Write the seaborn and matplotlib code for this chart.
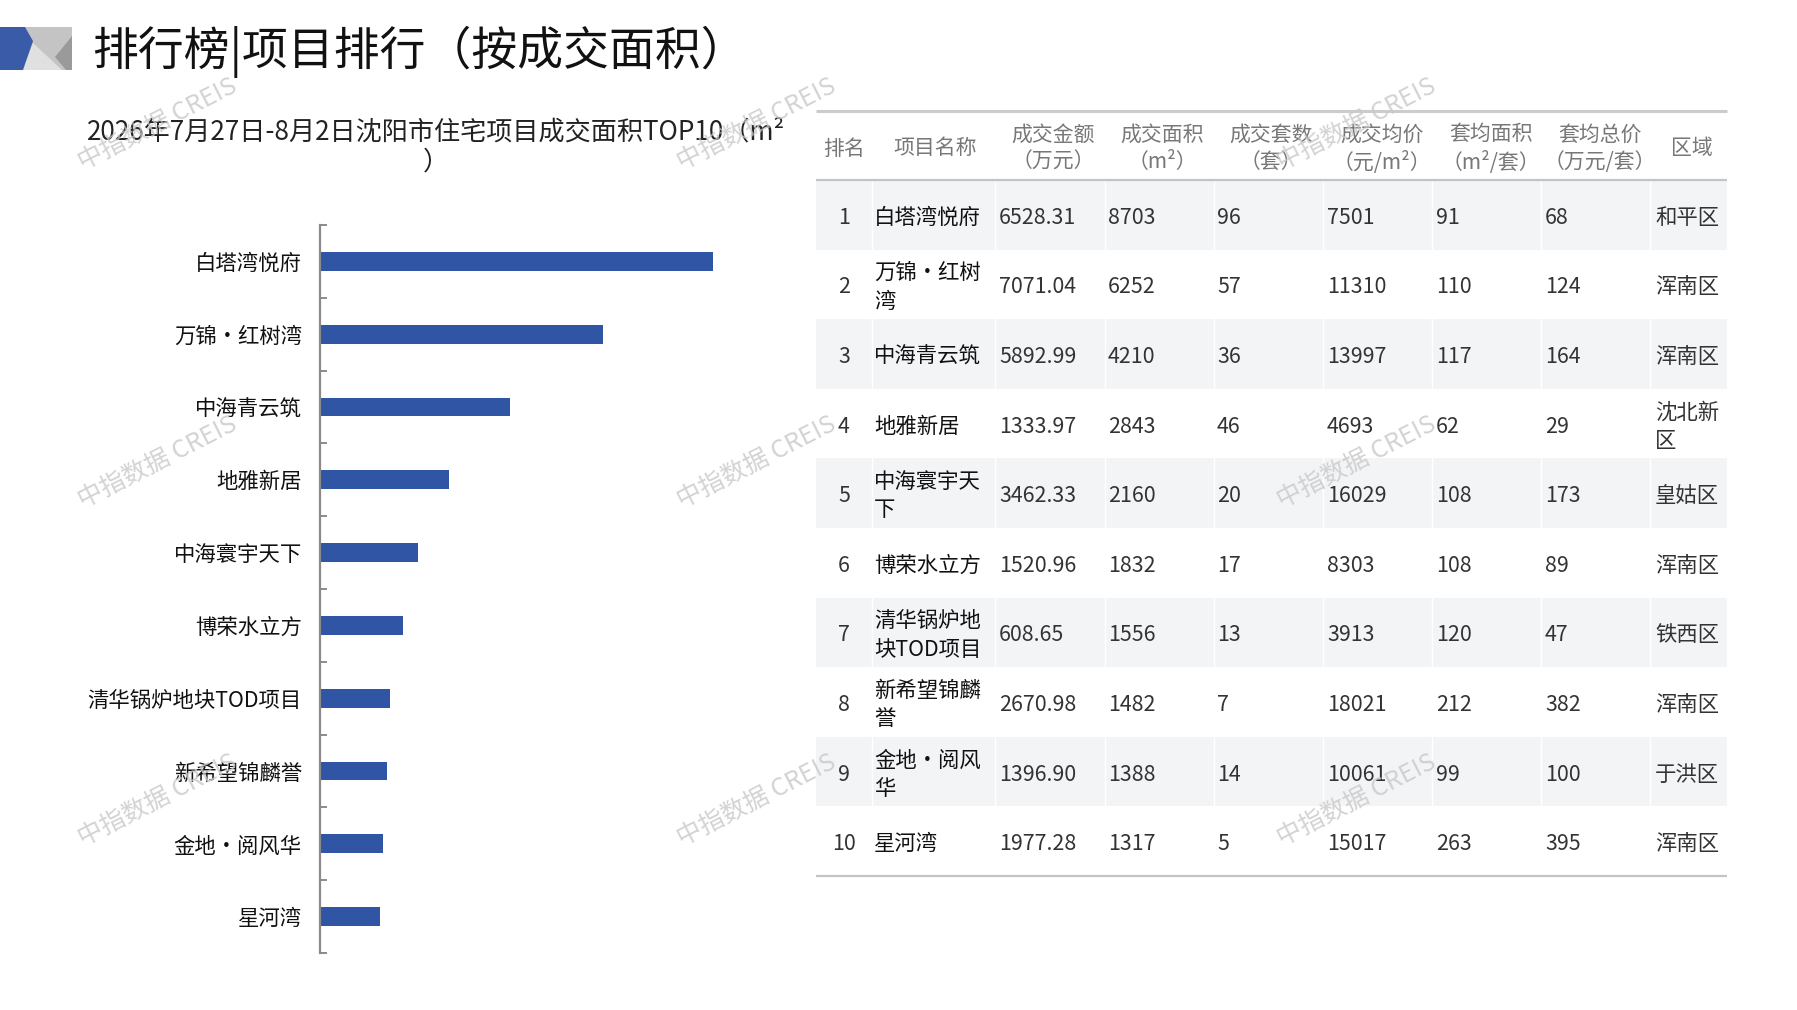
import numpy as np
import pandas as pd
import seaborn as sns
import matplotlib.pyplot as plt
from matplotlib.patches import Rectangle, Polygon

sns.set_style('white')
plt.rcParams['font.family'] = ['Noto Sans CJK SC', 'DejaVu Sans']

# ---- data ----
page_title = '排行榜|项目排行（按成交面积）'
chart_title = '2026年7月27日-8月2日沈阳市住宅项目成交面积TOP10（m²\n）'

names = ['白塔湾悦府', '万锦•红树湾', '中海青云筑', '地雅新居', '中海寰宇天下',
         '博荣水立方', '清华锅炉地块TOD项目', '新希望锦麟誉', '金地•阅风华', '星河湾']
rank = [1, 2, 3, 4, 5, 6, 7, 8, 9, 10]
amount = [6528.31, 7071.04, 5892.99, 1333.97, 3462.33, 1520.96, 608.65, 2670.98, 1396.90, 1977.28]
area = [8703, 6252, 4210, 2843, 2160, 1832, 1556, 1482, 1388, 1317]
units = [96, 57, 36, 46, 20, 17, 13, 7, 14, 5]
price = [7501, 11310, 13997, 4693, 16029, 8303, 3913, 18021, 10061, 15017]
avg_area = [91, 110, 117, 62, 108, 108, 120, 212, 99, 263]
avg_total = [68, 124, 164, 29, 173, 89, 47, 382, 100, 395]
district = ['和平区', '浑南区', '浑南区', '沈北新区', '皇姑区', '浑南区', '铁西区', '浑南区', '于洪区', '浑南区']

headers = ['排名', '项目名称', '成交金额\n（万元）', '成交面积\n（m²）', '成交套数\n（套）',
           '成交均价\n（元/m²）', '套均面积\n（m²/套）', '套均总价\n（万元/套）', '区域']

watermark = '中指数据 CREIS'

W, H = 1797, 1010
BAR = '#2F55A4'


def wrap(s, limit):
    # break a label by visual width: CJK = 1, ascii = 0.55
    lines, cur, w = [], '', 0
    for ch in s:
        cw = 0.55 if ord(ch) < 128 else 1
        if w + cw > limit + 0.01:
            lines.append(cur)
            cur, w = '', 0
        cur += ch
        w += cw
    lines.append(cur)
    return '\n'.join(lines)


fig = plt.figure(figsize=(W / 100, H / 100), dpi=100)

# overlay in pixel coordinates for title, logo and table
tab = fig.add_axes([0, 0, 1, 1], zorder=0)
tab.set_xlim(0, W)
tab.set_ylim(H, 0)
tab.axis('off')

# logo
tab.add_patch(Rectangle((0, 27), 72, 43, color='#c4c4c4', lw=0))
tab.add_patch(Polygon([(22, 70), (33, 43), (62, 70)], closed=True, color='#e0e0e0', lw=0))
tab.add_patch(Polygon([(72, 36), (55, 57), (66, 70), (72, 70)], closed=True, color='#9a9a9a', lw=0))
tab.add_patch(Polygon([(0, 27), (25, 27), (33, 41), (23, 70), (0, 70)], closed=True, color='#3A5CA8', lw=0))

tab.text(92, 52, page_title, fontsize=33, color='#111111', va='center', ha='left')
tab.text(436, 147, chart_title, fontsize=18.8, color='#222222', va='center', ha='center',
         linespacing=1.15)

# ---- bar chart ----
df = pd.DataFrame({'name': names, 'area': area})
ax = fig.add_axes([320 / W, 1 - 953 / H, 452 / W, 728 / H], zorder=1)
ax.patch.set_alpha(0)
sns.barplot(data=df, x='area', y='name', orient='h', color=BAR, saturation=1,
            width=0.26, linewidth=0, ax=ax)
ax.set_xlim(0, 10000)
ax.set_ylim(9.5, -0.5)
ax.set_xticks([])
ax.set_xlabel('')
ax.set_ylabel('')
sns.despine(ax=ax, top=True, right=True, bottom=True)
ax.spines['left'].set_color('#8a8a8a')
ax.spines['left'].set_linewidth(1.6)
ax.tick_params(axis='y', which='major', left=False, length=0, pad=13, labelsize=15.4,
               labelcolor='#111111')
ax.set_yticks(np.arange(-0.5, 10, 1), minor=True)
ax.tick_params(axis='y', which='minor', left=True, direction='in', length=5, width=1.4,
               color='#8a8a8a')

# ---- table ----
top, head_bot, row_h = 111, 180, 69.6
left, right = 816, 1727
borders = [816, 872, 995, 1105, 1214, 1323, 1432, 1541, 1650, 1727]
head_x = [844, 935, 1053, 1162, 1271, 1382, 1491, 1600, 1692]
val_x = [874, 999, 1108, 1217, 1327, 1436, 1545, 1655]
bottom = head_bot + 10 * row_h

for i in range(len(rank)):
    y0 = head_bot + i * row_h
    if i % 2 == 0:
        tab.add_patch(Rectangle((left, y0), right - left, row_h, color='#f3f4f6', lw=0))
tab.vlines(borders[1:-1], head_bot, bottom, color='white', lw=1.0)
tab.hlines(top, left, right, color='#cccccc', lw=2.2)
tab.hlines(head_bot, left, right, color='#c4c4c4', lw=1.6)
tab.hlines(bottom, left, right, color='#c4c4c4', lw=1.6)

for hx, h in zip(head_x, headers):
    tab.text(hx, (top + head_bot) / 2 + 3, h, fontsize=15, color='#777777',
             ha='center', va='center', linespacing=1.3)

cols = [
    [wrap(n, 5) for n in names],
    [f'{v:.2f}' for v in amount],
    [str(v) for v in area],
    [str(v) for v in units],
    [str(v) for v in price],
    [str(v) for v in avg_area],
    [str(v) for v in avg_total],
    [wrap(d, 3) for d in district],
]

for i in range(len(rank)):
    yc = head_bot + (i + 0.5) * row_h + 3
    tab.text(844, yc, str(rank[i]), fontsize=15.4, color='#333333', ha='center', va='center')
    for j, col in enumerate(cols):
        weight = 'medium' if j == 0 else 'normal'
        color = '#111111' if j == 0 else '#333333'
        tab.text(val_x[j], yc, col[i], fontsize=15.4, color=color, weight=weight,
                 ha='left', va='center', linespacing=1.38)

# ---- watermarks ----
for wy in [124, 462, 800]:
    for wx in [158, 757, 1357]:
        fig.text(wx / W, 1 - wy / H, watermark, fontsize=18, color='#c8c8c8', alpha=0.8,
                 rotation=27, ha='center', va='center', zorder=10)

fig.savefig('out.png', dpi=100)
